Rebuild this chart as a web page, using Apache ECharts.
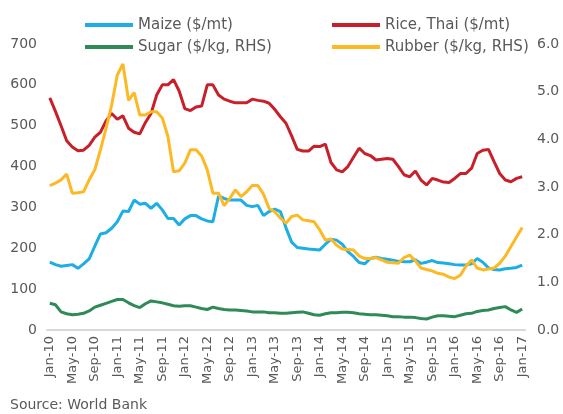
<!DOCTYPE html>
<html>
<head>
<meta charset="utf-8">
<script src="https://cdn.jsdelivr.net/npm/echarts@6/dist/echarts.min.js"></script>
<style>
  html, body { margin: 0; padding: 0; background: #fff; }
  #chart { width: 563px; height: 414px; }
</style>
</head>
<body>
<div id="chart"></div>
<script>
// months Jan-10 .. Jan-17
var monthNames = ['Jan','Feb','Mar','Apr','May','Jun','Jul','Aug','Sep','Oct','Nov','Dec'];
var months = [];
for (var y = 10; y <= 17; y++) {
    for (var m = 0; m < 12; m++) {
        if (y == 17 && m > 0) break;
        months.push(monthNames[m] + '-' + y);
    }
}

// Maize ($/mt)
var maize = [166,160,156,158,160,151,162,174,205,235,238,249,265,291,290,318,308,310,298,310,
    294,273,273,257,272,280,280,272,267,265,328,322,318,318,318,305,302,305,280,290,
    296,290,250,215,202,200,198,197,196,210,222,220,210,192,180,165,162,175,178,175,
    173,171,168,167,167,172,163,166,170,165,164,162,160,159,159,162,175,166,152,148,
    147,150,151,153,159];

// Rice, Thai ($/mt)
var rice = [568,535,500,463,448,439,440,452,472,484,512,530,516,524,494,484,480,508,530,575,
    600,600,613,585,542,537,546,548,600,600,575,565,560,556,556,556,565,562,560,555,
    540,522,506,475,442,438,438,450,449,455,410,392,387,400,423,445,432,427,416,418,
    420,418,400,380,375,389,367,355,371,367,362,361,371,383,383,396,432,440,442,412,
    383,367,363,371,375];

// Sugar ($/kg, RHS)
var sugar = [0.56,0.53,0.38,0.34,0.32,0.33,0.35,0.40,0.48,0.52,0.56,0.60,0.64,0.64,0.57,0.51,0.47,0.55,0.61,0.59,
    0.57,0.54,0.51,0.50,0.51,0.51,0.48,0.45,0.43,0.48,0.45,0.43,0.42,0.42,0.41,0.40,0.38,0.38,0.38,0.36,
    0.36,0.35,0.35,0.36,0.37,0.38,0.35,0.32,0.31,0.34,0.36,0.36,0.37,0.37,0.36,0.34,0.33,0.32,0.32,0.31,
    0.30,0.28,0.28,0.27,0.27,0.26,0.24,0.23,0.27,0.30,0.30,0.29,0.28,0.31,0.34,0.35,0.39,0.41,0.42,0.45,
    0.47,0.49,0.42,0.37,0.44];

// Rubber ($/kg, RHS)
var rubber = [3.03,3.08,3.15,3.27,2.87,2.88,2.90,3.15,3.36,3.78,4.23,4.72,5.35,5.58,4.82,4.98,4.51,4.51,4.58,4.58,
    4.45,4.06,3.32,3.34,3.50,3.78,3.78,3.65,3.36,2.87,2.87,2.61,2.76,2.94,2.80,2.90,3.03,3.03,2.85,2.55,
    2.48,2.35,2.24,2.38,2.41,2.31,2.29,2.27,2.10,1.89,1.91,1.78,1.70,1.69,1.68,1.55,1.50,1.50,1.52,1.47,
    1.42,1.41,1.40,1.52,1.57,1.45,1.30,1.27,1.24,1.19,1.17,1.11,1.08,1.15,1.34,1.47,1.30,1.26,1.28,1.30,
    1.40,1.55,1.75,1.95,2.15];

var fontName = 'DejaVu Sans';
var textColor = '#595959';

var chart = echarts.init(document.getElementById('chart'));

var legendBase = {
    orient: 'vertical',
    top: 12,
    icon: 'rect',
    itemWidth: 48,
    itemHeight: 4,
    itemGap: 6,
    textStyle: { fontFamily: fontName, fontSize: 15, color: textColor, lineHeight: 16 }
};

var option = {
    animation: false,
    backgroundColor: '#fff',
    grid: { left: 47, right: 38, top: 44, bottom: 84 },
    legend: [
        Object.assign({}, legendBase, { left: 80, data: ['Maize ($/mt)', 'Sugar ($/kg, RHS)'] }),
        Object.assign({}, legendBase, { left: 327, data: ['Rice, Thai ($/mt)', 'Rubber ($/kg, RHS)'] })
    ],
    xAxis: {
        type: 'category',
        data: months,
        boundaryGap: true,
        axisLine: { lineStyle: { color: '#D9D9D9', width: 2 } },
        axisTick: { show: false },
        axisLabel: {
            interval: 3,
            rotate: 90,
            margin: 6,
            fontFamily: fontName,
            fontSize: 13,
            color: textColor
        }
    },
    yAxis: [
        {
            type: 'value', min: 0, max: 700, interval: 100,
            axisLine: { show: false }, axisTick: { show: false }, splitLine: { show: false },
            axisLabel: { fontFamily: fontName, fontSize: 14, color: textColor, margin: 10 }
        },
        {
            type: 'value', min: 0, max: 6, interval: 1,
            axisLine: { show: false }, axisTick: { show: false }, splitLine: { show: false },
            axisLabel: {
                fontFamily: fontName, fontSize: 14, color: textColor, margin: 12,
                formatter: function (v) { return v.toFixed(1); }
            }
        }
    ],
    series: [
        { name: 'Maize ($/mt)', type: 'line', data: maize, showSymbol: false,
          color: '#1CAEE5', lineStyle: { width: 3 } },
        { name: 'Rice, Thai ($/mt)', type: 'line', data: rice, showSymbol: false,
          color: '#C8202B', lineStyle: { width: 3 } },
        { name: 'Sugar ($/kg, RHS)', type: 'line', data: sugar, yAxisIndex: 1, showSymbol: false,
          color: '#2E8B57', lineStyle: { width: 3 } },
        { name: 'Rubber ($/kg, RHS)', type: 'line', data: rubber, yAxisIndex: 1, showSymbol: false,
          color: '#FDB924', lineStyle: { width: 3 } }
    ],
    graphic: [
        { type: 'text', left: 10, top: 398,
          style: { text: 'Source: World Bank', fontFamily: fontName, fontSize: 14, fill: textColor } }
    ]
};

chart.setOption(option);
</script>
</body>
</html>
